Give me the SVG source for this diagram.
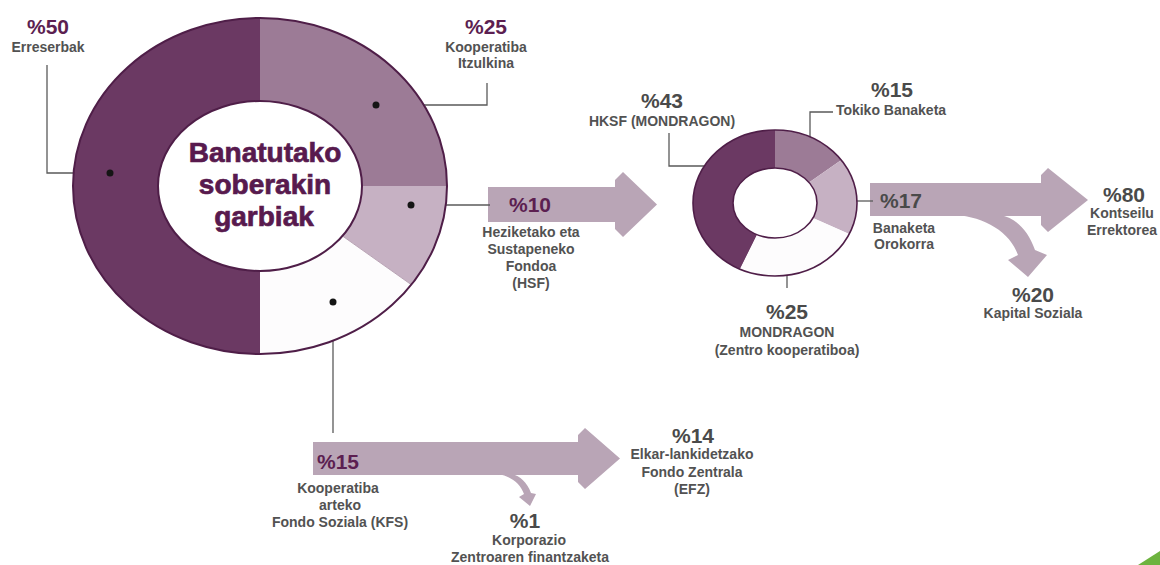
<svg xmlns="http://www.w3.org/2000/svg" width="1160" height="565" viewBox="0 0 1160 565">
<style>
text{font-family:"Liberation Sans",Arial,sans-serif;font-weight:bold;text-anchor:middle}
.pc{font-size:21px;fill:#4a4a4a}
.pp{font-size:21px;fill:#5c1f51}
.lb{font-size:14px;fill:#525252}
.title{font-size:28px;fill:#581a4e;stroke:#581a4e;stroke-width:0.7}
.seg1{fill:#6b3963}
.seg2{fill:#9c7b96}
.seg3{fill:#c6b1c3}
.seg4{fill:#fdfcfd}
.rim{fill:none;stroke:#4f1e48;stroke-width:2}
.sep{stroke:#b8a3b4;stroke-width:1}
.lead{fill:none;stroke:#5a5a5a;stroke-width:1.3}
.dot{fill:#151515}
.arrow{fill:#b9a5b6}
</style>
<rect width="1160" height="565" fill="#ffffff"/>

<g id="connectors">
  <polygon class="arrow" points="488,187 615,187 615,180 623,172 657,204.5 623,237 615,229 615,222 488,222"/>
  <polygon class="arrow" points="870,183 1041,183 1041,175 1048,168 1088,200 1048,232 1041,225 1041,216 870,216"/>
  <path class="arrow" d="M955,215 C985,217 1010,232 1018,255 L1008,260 L1028,277 L1047,255 L1035,250 C1028,230 1016,218 1000,215 Z"/>
  <polygon class="arrow" points="313,442 578,442 578,435 585,428 620,458.5 585,489 578,482 578,475 313,475"/>
  <path class="arrow" d="M498,474 C510,476 520,483 524,494 L519,497 L530,506 L536,494 L531,493 C527,482 520,476 512,474 Z"/>
  <path class="lead" d="M110,173 H47 V65"/>
  <path class="lead" d="M376,105 H487 V83"/>
  <path class="lead" d="M411,205 H490"/>
  <path class="lead" d="M333,302 V433"/>
  <path class="lead" d="M735,166 H669 V133"/>
  <path class="lead" d="M810,153 V112 H833"/>
  <path class="lead" d="M843,201 H873"/>
  <path class="lead" d="M787,260 V288"/>
</g>

<g id="donut-main">
  <path class="seg1" d="M260,18 A187,168 0 0 0 260,354 L260,271 A102,85 0 0 1 260,101 Z"/>
  <path class="seg2" d="M260,18 A187,168 0 0 1 447,186 L362,186 A102,85 0 0 0 260,101 Z"/>
  <path class="seg3" d="M447,186 A187,168 0 0 1 411.3,284.7 L342.5,236 A102,85 0 0 0 362,186 Z"/>
  <path class="seg4" d="M411.3,284.7 A187,168 0 0 1 260,354 L260,271 A102,85 0 0 0 342.5,236 Z"/>
  <line class="sep" x1="411.3" y1="284.7" x2="342.5" y2="236"/>
  <ellipse class="rim" cx="260" cy="186" rx="187" ry="168"/>
  <ellipse class="rim" cx="260" cy="186" rx="102" ry="85"/>
  <text class="title" x="265" y="162">Banatutako</text>
  <text class="title" x="265" y="194">soberakin</text>
  <text class="title" x="264" y="226">garbiak</text>
  <circle class="dot" cx="110" cy="173" r="3.5"/>
  <circle class="dot" cx="376" cy="105" r="3.5"/>
  <circle class="dot" cx="411" cy="205" r="3.5"/>
  <circle class="dot" cx="333" cy="302" r="3.5"/>
</g>

<g id="donut-hksf">
  <path class="seg1" d="M740.1,269.05 A82,73 0 0 1 775,130 L775,168 A42,35 0 0 0 757.1,234.7 Z"/>
  <path class="seg2" d="M775,130 A82,73 0 0 1 841.3,160.1 L809,182.4 A42,35 0 0 0 775,168 Z"/>
  <path class="seg3" d="M841.3,160.1 A82,73 0 0 1 849.2,234.1 L813,217.9 A42,35 0 0 0 809,182.4 Z"/>
  <path class="seg4" d="M849.2,234.1 A82,73 0 0 1 740.1,269.05 L757.1,234.7 A42,35 0 0 0 813,217.9 Z"/>
  <ellipse class="rim" cx="775" cy="203" rx="82" ry="73" style="stroke-width:1.6"/>
  <ellipse class="rim" cx="775" cy="203" rx="42" ry="35" style="stroke-width:1.6"/>
</g>

<g id="label-erreserbak">
  <text class="pp" x="48" y="34">%50</text>
  <text class="lb" x="48" y="52">Erreserbak</text>
</g>
<g id="label-itzulkina">
  <text class="pp" x="486" y="34">%25</text>
  <text class="lb" x="486" y="52">Kooperatiba</text>
  <text class="lb" x="486" y="68">Itzulkina</text>
</g>
<g id="label-hsf">
  <text class="pp" x="509" y="212" style="text-anchor:start">%10</text>
  <text class="lb" x="531" y="237">Heziketako eta</text>
  <text class="lb" x="531" y="254">Sustapeneko</text>
  <text class="lb" x="531" y="271">Fondoa</text>
  <text class="lb" x="531" y="288">(HSF)</text>
</g>
<g id="label-hksf">
  <text class="pc" x="662" y="108">%43</text>
  <text class="lb" x="662" y="126">HKSF (MONDRAGON)</text>
</g>
<g id="label-tokiko">
  <text class="pc" x="892" y="97">%15</text>
  <text class="lb" x="891" y="115">Tokiko Banaketa</text>
</g>
<g id="label-orokorra">
  <text class="pc" x="880" y="208" style="text-anchor:start">%17</text>
  <text class="lb" x="904" y="233">Banaketa</text>
  <text class="lb" x="904" y="249">Orokorra</text>
</g>
<g id="label-mondragon">
  <text class="pc" x="787" y="319">%25</text>
  <text class="lb" x="787" y="337">MONDRAGON</text>
  <text class="lb" x="787" y="355">(Zentro kooperatiboa)</text>
</g>
<g id="label-kontseilu">
  <text class="pc" x="1124" y="202">%80</text>
  <text class="lb" x="1122" y="218">Kontseilu</text>
  <text class="lb" x="1122" y="235">Errektorea</text>
</g>
<g id="label-kapital">
  <text class="pc" x="1033" y="302">%20</text>
  <text class="lb" x="1033" y="318">Kapital Soziala</text>
</g>
<g id="label-kfs">
  <text class="pp" x="317" y="469" style="text-anchor:start">%15</text>
  <text class="lb" x="338" y="493">Kooperatiba</text>
  <text class="lb" x="340" y="510">arteko</text>
  <text class="lb" x="340" y="527">Fondo Soziala (KFS)</text>
</g>
<g id="label-efz">
  <text class="pc" x="693" y="443">%14</text>
  <text class="lb" x="692" y="459">Elkar-lankidetzako</text>
  <text class="lb" x="692" y="477">Fondo Zentrala</text>
  <text class="lb" x="692" y="494">(EFZ)</text>
</g>
<g id="label-korporazio">
  <text class="pc" x="525" y="528">%1</text>
  <text class="lb" x="529" y="545">Korporazio</text>
  <text class="lb" x="530" y="562">Zentroaren finantzaketa</text>
</g>
<polygon points="1138,565 1160,551 1160,565" fill="#6db33f"/>
</svg>
